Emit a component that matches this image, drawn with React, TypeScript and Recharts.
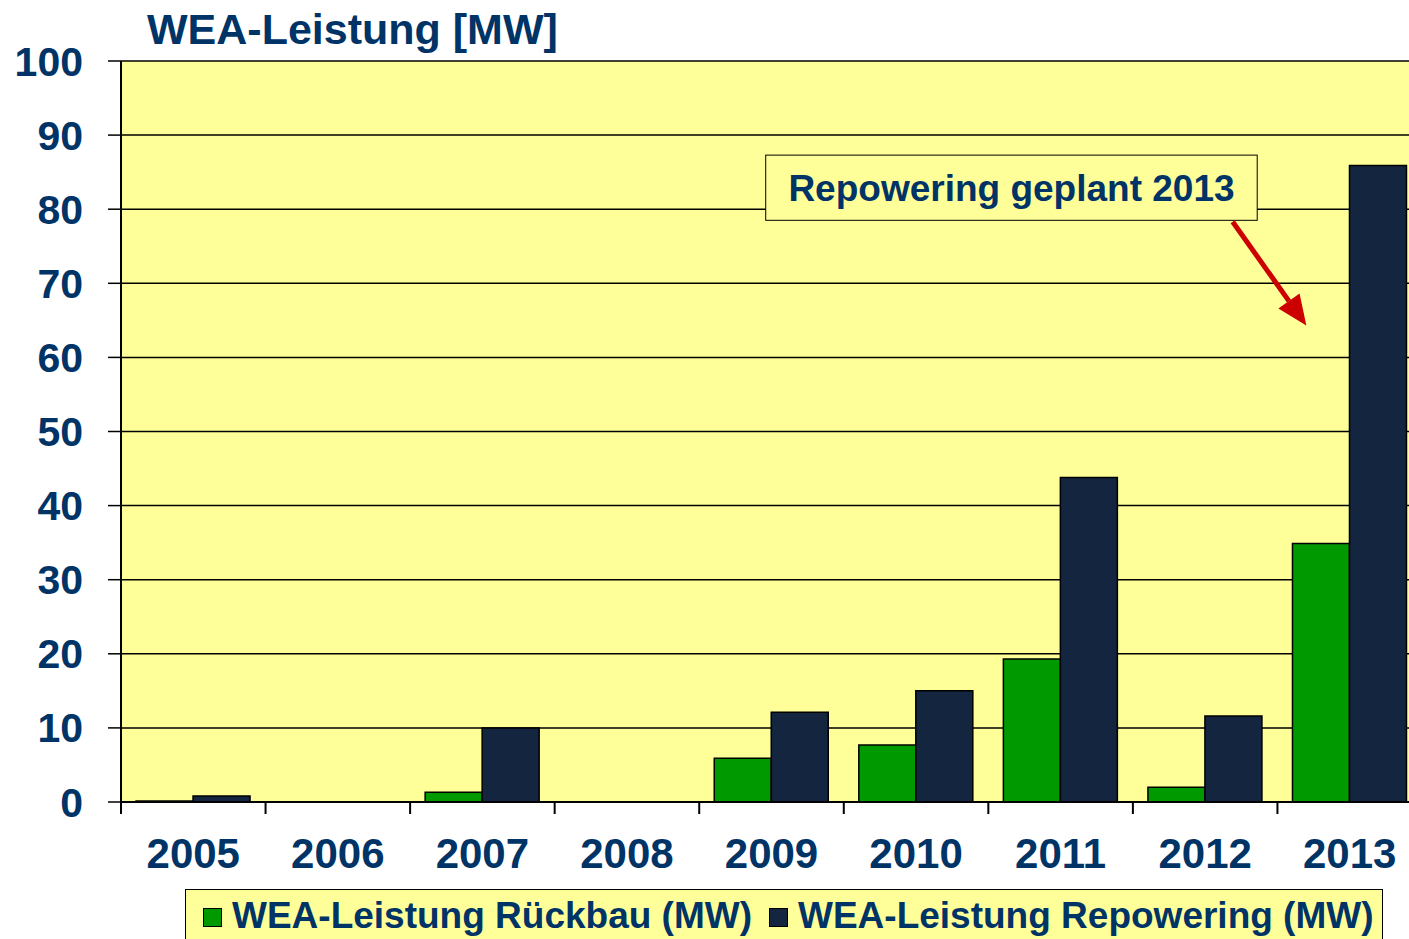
import React from 'react';
import { BarChart, Bar, XAxis, YAxis, CartesianGrid, ReferenceArea, ReferenceLine, Legend } from 'recharts';

const years = ['2005', '2006', '2007', '2008', '2009', '2010', '2011', '2012', '2013'];
const rueckbau = [0.15, 0, 1.3, 0, 5.9, 7.7, 19.3, 2.0, 34.9];
const repowering = [0.8, 0, 10.0, 0, 12.1, 15.0, 43.8, 11.6, 85.9];
const yTicks = [0, 10, 20, 30, 40, 50, 60, 70, 80, 90, 100];

const seriesNames = ['WEA-Leistung Rückbau (MW)', 'WEA-Leistung Repowering (MW)'];
const titleText = 'WEA-Leistung [MW]';
const annotationText = 'Repowering geplant 2013';
// annotation box and arrow in data units (x: position in category widths from the left edge, y: MW)
const annotationBox = { x1: 4.46, x2: 7.86, y1: 78.5, y2: 87.3 };
const arrowSegment = [{ x: 7.69, y: 78.3 }, { x: 8.2, y: 64.3 }];

const data = years.map((year, i) => ({ year, pos: i + 0.5, rueckbau: rueckbau[i], repowering: repowering[i] }));

const NAVY = '#003366';
const GREEN = '#009900';
const DARK = '#13253f';
const YELLOW = '#FFFF99';
const FONT = '"Liberation Sans", Arial, Helvetica, sans-serif';

const AnnotationShape = (props: any) => {
  const { x, y, width, height } = props;
  return (
    <g>
      <rect x={x} y={y} width={width} height={height} fill={YELLOW} stroke="#000" strokeWidth={1} />
      <text
        x={x + width / 2}
        y={y + height / 2 + 13}
        textAnchor="middle"
        fontFamily={FONT}
        fontWeight="bold"
        fontSize={37}
        fill={NAVY}
      >
        {annotationText}
      </text>
    </g>
  );
};

const ArrowShape = (props: any) => {
  const { x1, y1, x2, y2 } = props;
  const dx = x2 - x1;
  const dy = y2 - y1;
  const len = Math.sqrt(dx * dx + dy * dy);
  const ux = dx / len;
  const uy = dy / len;
  const headLen = 30;
  const headHalf = 13;
  const bx = x2 - ux * headLen;
  const by = y2 - uy * headLen;
  const px = -uy;
  const py = ux;
  return (
    <g>
      <line x1={x1} y1={y1} x2={bx} y2={by} stroke="#CC0000" strokeWidth={5} />
      <polygon
        points={`${x2},${y2} ${bx + px * headHalf},${by + py * headHalf} ${bx - px * headHalf},${by - py * headHalf}`}
        fill="#CC0000"
      />
    </g>
  );
};

const CategoryTick = (props: any) => {
  const { x, y, payload, index, visibleTicksCount, width } = props;
  const half =
    payload && payload.offset > 0 ? payload.offset : width && visibleTicksCount ? width / visibleTicksCount / 2 : 72.3;
  const last = index === visibleTicksCount - 1;
  return (
    <g>
      <line x1={x - half} y1={y} x2={x - half} y2={y + 12} stroke="#000" strokeWidth={2} />
      {last ? <line x1={x + half} y1={y} x2={x + half} y2={y + 12} stroke="#000" strokeWidth={2} /> : null}
      <text
        x={x}
        y={y + 66}
        textAnchor="middle"
        fontFamily={FONT}
        fontWeight="bold"
        fontSize={42}
        fill={NAVY}
      >
        {payload.value}
      </text>
    </g>
  );
};

const LegendContent = () => {
  const colors = [GREEN, DARK];
  return (
    <div
      style={{
        boxSizing: 'border-box',
        width: 1198,
        height: 70,
        border: '1.5px solid #000',
        background: YELLOW,
        display: 'flex',
        alignItems: 'flex-start',
        paddingLeft: 17,
        paddingTop: 6,
        fontFamily: FONT,
        fontWeight: 'bold',
        fontSize: 37,
        color: NAVY,
        whiteSpace: 'nowrap',
      }}
    >
      {seriesNames.map((n, i) => (
        <div key={n} style={{ display: 'flex', alignItems: 'center', marginRight: i === 0 ? 17 : 0 }}>
          <span
            style={{
              display: 'inline-block',
              boxSizing: 'border-box',
              width: 19,
              height: 19,
              background: colors[i],
              border: '1px solid #000',
              marginRight: 10,
              marginTop: 2,
            }}
          />
          <span style={{ lineHeight: '40px' }}>{n}</span>
        </div>
      ))}
    </div>
  );
};

export default function App() {
  return (
    <div
      style={{
        position: 'absolute',
        left: 0,
        top: 0,
        width: 1409,
        height: 939,
        overflow: 'hidden',
        background: '#fff',
      }}
    >
      <div
        style={{
          position: 'absolute',
          left: 147,
          top: 8,
          fontFamily: FONT,
          fontWeight: 'bold',
          fontSize: 43,
          lineHeight: '43px',
          color: NAVY,
          zIndex: 2,
          whiteSpace: 'nowrap',
        }}
      >
        {titleText}
      </div>
      <BarChart
        width={1440}
        height={939}
        data={data}
        margin={{ top: 61, right: 18, left: 0, bottom: 64 }}
        barCategoryGap="10.4%"
        barGap={0}
      >
        <CartesianGrid
          vertical={false}
          stroke="#000"
          strokeWidth={1.5}
          fill={YELLOW}
          fillOpacity={1}
          xAxisId="cat"
        />
        <XAxis
          xAxisId="cat"
          dataKey="year"
          type="category"
          height={73}
          interval={0}
          axisLine={{ stroke: '#000', strokeWidth: 2 }}
          tickLine={false}
          tickSize={0}
          tickMargin={0}
          tick={CategoryTick}
        />
        <XAxis xAxisId="num" dataKey="pos" type="number" domain={[0, 9]} allowDataOverflow hide />
        <YAxis
          type="number"
          domain={[0, 100]}
          ticks={yTicks}
          width={121}
          tickSize={13}
          tickMargin={25}
          interval={0}
          axisLine={{ stroke: '#000', strokeWidth: 2 }}
          tickLine={{ stroke: '#000', strokeWidth: 1.5 }}
          tick={{ fill: NAVY, fontSize: 41, fontWeight: 'bold', fontFamily: FONT }}
        />
        <Bar
          xAxisId="cat"
          dataKey="rueckbau"
          name={seriesNames[0]}
          fill={GREEN}
          stroke="#000"
          strokeWidth={1.5}
          isAnimationActive={false}
        />
        <Bar
          xAxisId="cat"
          dataKey="repowering"
          name={seriesNames[1]}
          fill={DARK}
          stroke="#000"
          strokeWidth={1.5}
          isAnimationActive={false}
        />
        <ReferenceArea
          xAxisId="num"
          x1={annotationBox.x1}
          x2={annotationBox.x2}
          y1={annotationBox.y1}
          y2={annotationBox.y2}
          shape={AnnotationShape}
          ifOverflow="visible"
        />
        <ReferenceLine
          xAxisId="num"
          segment={arrowSegment}
          shape={ArrowShape}
          ifOverflow="visible"
        />
        <Legend
          layout="horizontal"
          verticalAlign="middle"
          align="center"
          content={LegendContent}
          wrapperStyle={{ position: 'absolute', left: 185, top: 889, width: 1198, height: 70 }}
        />
      </BarChart>
    </div>
  );
}
